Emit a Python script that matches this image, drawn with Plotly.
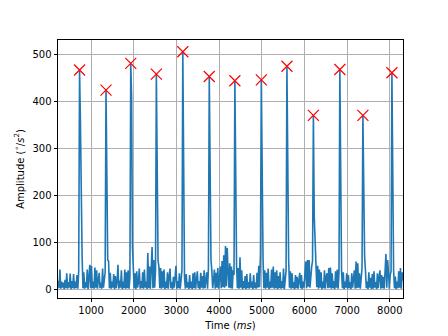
import plotly.graph_objects as go

# sampled signal: one value every 20 ms starting at 230 ms
t_start = 230
t_step = 20
amplitude = [
    18, 2, 42, 1, 16, 3, 14, 0, 20, 2, 34, 1, 15, 3, 33, 0, 17, 2, 32, 1,
    16, 2, 30, 1, 38, 468, 360, 112, 70, 2, 36, 1, 15, 3, 42, 0, 45, 52, 2, 50,
    2, 16, 1, 46, 3, 40, 1, 17, 35, 2, 14, 1, 44, 3, 15, 36, 425, 200, 62, 60,
    2, 35, 1, 16, 3, 32, 0, 28, 2, 15, 52, 1, 18, 3, 40, 0, 16, 2, 42, 1,
    36, 2, 40, 1, 25, 482, 410, 90, 45, 2, 34, 0, 38, 3, 15, 44, 1, 17, 2, 36,
    1, 42, 3, 16, 0, 77, 2, 48, 1, 35, 90, 2, 62, 3, 40, 459, 170, 60, 48, 2,
    45, 1, 38, 3, 42, 0, 16, 2, 36, 1, 28, 44, 2, 15, 0, 26, 3, 38, 50, 1,
    17, 2, 34, 1, 28, 40, 507, 130, 25, 1, 32, 3, 15, 0, 30, 2, 16, 0, 34, 2,
    36, 1, 14, 38, 2, 17, 0, 35, 3, 28, 1, 40, 2, 16, 36, 1, 45, 454, 160, 62,
    40, 2, 18, 42, 1, 35, 3, 45, 1, 38, 48, 2, 60, 4, 72, 3, 92, 6, 88, 40,
    3, 55, 2, 48, 1, 40, 30, 445, 140, 50, 2, 45, 1, 68, 3, 40, 0, 17, 2, 28,
    0, 32, 2, 15, 1, 34, 3, 16, 0, 30, 2, 14, 1, 35, 3, 50, 4, 77, 447, 150,
    65, 2, 40, 1, 35, 3, 44, 0, 16, 2, 42, 3, 48, 1, 36, 2, 40, 0, 28, 2,
    36, 1, 17, 2, 44, 0, 28, 40, 476, 120, 64, 3, 38, 1, 34, 2, 15, 0, 30, 2,
    26, 1, 15, 35, 2, 30, 0, 16, 3, 40, 59, 2, 62, 5, 62, 3, 36, 48, 60, 371,
    155, 100, 60, 4, 50, 1, 42, 3, 36, 0, 16, 2, 40, 1, 26, 34, 2, 45, 3, 46,
    1, 34, 2, 17, 0, 38, 3, 42, 1, 36, 469, 110, 38, 2, 36, 0, 16, 3, 34, 1,
    30, 2, 15, 0, 34, 3, 17, 40, 1, 59, 2, 55, 3, 34, 1, 30, 45, 371, 200, 70,
    40, 2, 16, 0, 36, 3, 24, 0, 32, 1, 38, 3, 15, 0, 34, 2, 26, 40, 1, 30,
    2, 26, 1, 40, 75, 3, 62, 35, 1, 30, 38, 462, 140, 40, 2, 27, 0, 16, 2, 38,
    3, 45, 1, 36, 18,
]
time_ms = [t_start + t_step * i for i in range(len(amplitude))]

# peaks: local maxima above threshold
peak_threshold = 300
peaks = [i for i in range(1, len(amplitude) - 1)
         if amplitude[i] > peak_threshold
         and amplitude[i] >= amplitude[i - 1]
         and amplitude[i] >= amplitude[i + 1]]

x_range = [225, 8310]
y_range = [-19, 532]
x_ticks = [1000, 2000, 3000, 4000, 5000, 6000, 7000, 8000]
y_ticks = [0, 100, 200, 300, 400, 500]

fig = go.Figure()

fig.add_trace(go.Scatter(
    x=time_ms, y=amplitude, mode="lines",
    line=dict(color="#1f77b4", width=1.6),
    showlegend=False))

fig.add_trace(go.Scatter(
    x=[time_ms[i] for i in peaks], y=[amplitude[i] for i in peaks],
    mode="markers",
    marker=dict(symbol="x-thin", size=11, line=dict(color="red", width=1.2)),
    showlegend=False))

axis_style = dict(
    showline=True, linecolor="black", linewidth=0.8, mirror=True,
    ticks="outside", ticklen=3.5, tickwidth=0.8, tickcolor="black",
    showgrid=True, gridcolor="#b0b0b0", gridwidth=0.8,
    zeroline=False, tickfont=dict(size=10, color="black"),
)

fig.update_xaxes(range=x_range, tickvals=x_ticks,
                 title=dict(text="Time (<i>ms</i>)", font=dict(size=10), standoff=6),
                 **axis_style)
fig.update_yaxes(range=y_range, tickvals=y_ticks,
                 title=dict(text="Amplitude (<sup>∘</sup>/<i>s</i><sup>2</sup>)",
                            font=dict(size=10), standoff=6),
                 **axis_style)

# page body adds 8px, so margins are shifted to keep the axes box in place
fig.update_layout(
    width=448, height=336,
    margin=dict(l=48, r=53, t=32, b=46),
    paper_bgcolor="white", plot_bgcolor="white",
    font=dict(family="DejaVu Sans", size=10, color="black"),
)

fig.write_html("out.html")
